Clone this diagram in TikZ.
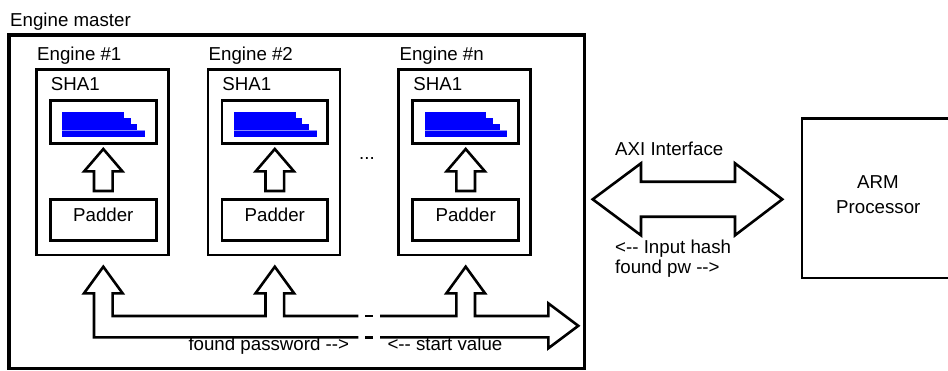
\documentclass[tikz,border=0pt]{standalone}
\usepackage{fontspec}
\setmainfont{Liberation Sans}
\begin{document}
\begin{tikzpicture}[x=1pt,y=-1pt,
  txt/.style={inner sep=0pt, font=\fontsize{18.7pt}{22pt}\selectfont},
  lbl/.style={txt, anchor=base west},
  clbl/.style={txt, anchor=base},
  masterbox/.style={draw, line width=3.2pt, inner sep=0pt},
  enginebox/.style={draw, line width=2.6pt, inner sep=0pt, minimum width=132pt, minimum height=185.5pt},
  unitbox/.style={draw, line width=2.6pt, inner sep=0pt, minimum width=105.9pt},
  blockarrow/.style={draw, line width=2.6pt, line join=miter, fill=white},
  barfill/.style={fill={rgb,255:red,0;green,0;blue,255}}
]
\useasboundingbox (0,0) rectangle (948,370);

% Engine master frame
\node[lbl] (mastertitle) at (10,26) {Engine master};
\node[masterbox, minimum width=575.5pt, minimum height=333.5pt] (master) at (296.75,201.75) {};

% The three SHA1 engines
\foreach \k/\dx/\lab in {1/0/1, 2/171.5/2, n/362.4/n} {
  \begin{scope}[xshift=\dx pt]
    \node[enginebox] (eng\k) at (102.3,162.25) {};
    \node[lbl] (engtitle\k) at (37,60) {Engine \#\lab};
    \node[lbl] (shatitle\k) at (50.7,90.7) {SHA1};
    \node[unitbox, minimum height=42.8pt] (sha\k) at (103.3,122) {};
    % hash progress bars
    \fill[barfill] (62.3,111.7) rectangle (124,117.7);
    \fill[barfill] (62.3,117.7) rectangle (130.7,123.7);
    \fill[barfill] (62.3,123.7) rectangle (137.3,130);
    \fill[barfill] (62.3,130) rectangle (145,136.7);
    \draw[blue!45!white, line width=0.6pt] (62.3,130) -- (145,130);
    \node[unitbox, minimum height=41pt] (pad\k) at (103.3,220.2) {};
    \node[clbl] (padtext\k) at (103.3,221.7) {Padder};
    % padder -> SHA1
    \draw[blockarrow] (94,191) -- (94,171.3) -- (84.2,171.3) -- (103.3,149)
      -- (122.4,171.3) -- (112.6,171.3) -- (112.6,191) -- cycle;
  \end{scope}
}

\node[lbl] (dots) at (359,159) {...};

% Shared bus between the engines and the AXI side
\draw[blockarrow, fill=none] (358.3,316) -- (284.1,316) -- (284.1,293.3) -- (294.1,293.3)
  -- (274.8,266.7) -- (255.5,293.3) -- (265.5,293.3) -- (265.5,316)
  -- (112.6,316) -- (112.6,293.3) -- (122.6,293.3) -- (103.3,266.7)
  -- (84,293.3) -- (94,293.3) -- (94,337.3) -- (358.3,337.3);
\draw[blockarrow, fill=none] (380,337.3) -- (548.3,337.3) -- (548.3,348.3) -- (578.3,325.8)
  -- (548.3,303.3) -- (548.3,316) -- (475,316) -- (475,293.3) -- (485,293.3)
  -- (465.7,266.7) -- (446.4,293.3) -- (456.4,293.3) -- (456.4,316) -- (380,316);
\draw[line width=2.6pt] (365,316) -- (372.7,316);
\draw[line width=2.6pt] (365,337.3) -- (372.7,337.3);
\node[lbl] (foundpw) at (188.3,350.7) {found password -{}->};
\node[lbl] (startval) at (387.3,350.7) {<-{}- start value};

% AXI interface
\node[lbl] (axititle) at (615,155) {AXI Interface};
\draw[blockarrow] (592.7,199.3) -- (641,163.3) -- (641,181.7) -- (735,181.7) -- (735,163.3)
  -- (782.3,199.3) -- (735,235.3) -- (735,216.7) -- (641,216.7) -- (641,235.3) -- cycle;
\node[lbl] (inhash) at (615,253.3) {<-{}- Input hash};
\node[lbl] (foundshort) at (615,273.3) {found pw -{}->};

% ARM processor
\begin{scope}
  \clip (0,0) rectangle (948,370);
  \node[draw, line width=2.6pt, inner sep=0pt, minimum width=152pt, minimum height=159.3pt] (arm) at (878,198.35) {};
\end{scope}
\node[clbl] (armtxt) at (878,188.3) {ARM};
\node[clbl] (proctxt) at (878.3,213.3) {Processor};
\end{tikzpicture}
\end{document}
